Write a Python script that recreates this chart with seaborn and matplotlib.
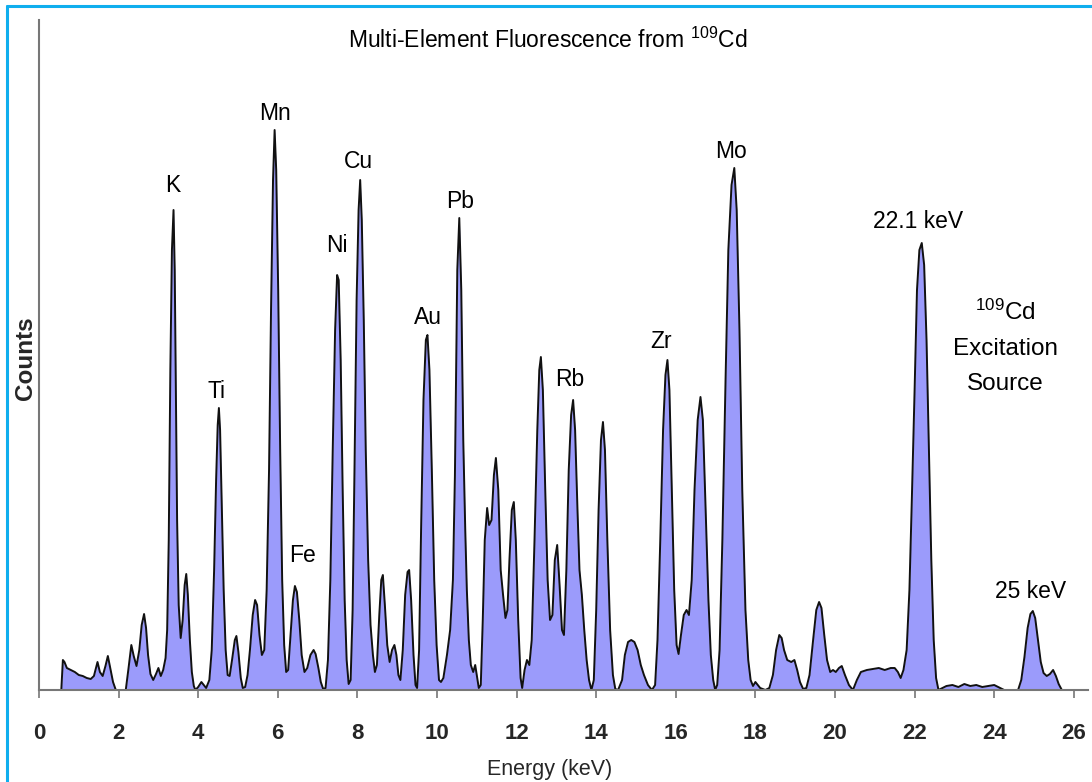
import matplotlib
matplotlib.use("Agg")
import matplotlib.pyplot as plt
from matplotlib.lines import Line2D
import seaborn as sns

# ---------------- data ----------------
energy_kev = [
    0.50, 0.56, 0.60, 0.64, 0.70, 0.80, 0.90, 1.00, 1.10, 1.20, 1.30, 1.38, 1.47, 1.53, 1.60, 1.67, 1.73, 1.79, 1.86, 1.93,
    2.18, 2.25, 2.32, 2.38, 2.45, 2.52, 2.58, 2.64, 2.69, 2.74, 2.80, 2.87, 2.94, 3.00, 3.06, 3.12, 3.18, 3.22, 3.26, 3.30,
    3.34, 3.38, 3.41, 3.44, 3.47, 3.51, 3.56, 3.61, 3.66, 3.70, 3.74, 3.79, 3.84, 3.89, 3.93, 4.00, 4.08, 4.14, 4.20, 4.28,
    4.34, 4.40, 4.45, 4.49, 4.52, 4.55, 4.59, 4.64, 4.69, 4.74, 4.79, 4.85, 4.92, 4.96, 5.01, 5.07, 5.12, 5.18, 5.24, 5.30,
    5.37, 5.43, 5.48, 5.54, 5.60, 5.66, 5.72, 5.78, 5.83, 5.88, 5.92, 5.96, 6.01, 6.06, 6.11, 6.16, 6.21, 6.26, 6.32, 6.38,
    6.43, 6.48, 6.54, 6.60, 6.67, 6.74, 6.82, 6.90, 6.95, 7.02, 7.08, 7.14, 7.20, 7.26, 7.32, 7.38, 7.44, 7.49, 7.53, 7.58,
    7.63, 7.68, 7.73, 7.78, 7.83, 7.88, 7.93, 7.98, 8.03, 8.07, 8.11, 8.16, 8.21, 8.27, 8.33, 8.39, 8.44, 8.49, 8.55, 8.60,
    8.64, 8.69, 8.75, 8.81, 8.87, 8.93, 8.98, 9.03, 9.08, 9.14, 9.20, 9.26, 9.30, 9.35, 9.41, 9.46, 9.50, 9.55, 9.60, 9.66,
    9.72, 9.76, 9.81, 9.87, 9.93, 9.99, 10.05, 10.10, 10.16, 10.25, 10.33, 10.40, 10.45, 10.51, 10.56, 10.61, 10.66, 10.71, 10.75, 10.80,
    10.85, 10.91, 10.96, 11.00, 11.05, 11.10, 11.15, 11.20, 11.26, 11.31, 11.37, 11.43, 11.48, 11.54, 11.60, 11.66, 11.72, 11.77, 11.82, 11.88,
    11.93, 11.98, 12.04, 12.10, 12.14, 12.20, 12.26, 12.32, 12.38, 12.45, 12.52, 12.57, 12.61, 12.66, 12.72, 12.78, 12.84, 12.90, 12.96, 13.02,
    13.08, 13.14, 13.19, 13.25, 13.31, 13.37, 13.42, 13.47, 13.53, 13.58, 13.64, 13.70, 13.76, 13.82, 13.88, 13.94, 14.00, 14.06, 14.12, 14.17,
    14.22, 14.28, 14.35, 14.42, 14.48, 14.55, 14.65, 14.72, 14.80, 14.88, 14.96, 15.04, 15.12, 15.20, 15.30, 15.40, 15.48, 15.54, 15.61, 15.68,
    15.74, 15.79, 15.84, 15.90, 15.96, 16.02, 16.07, 16.13, 16.20, 16.27, 16.33, 16.40, 16.47, 16.55, 16.62, 16.68, 16.75, 16.82, 16.88, 16.94,
    16.99, 17.04, 17.10, 17.17, 17.25, 17.32, 17.40, 17.47, 17.53, 17.60, 17.67, 17.75, 17.82, 17.88, 17.94, 18.00, 18.06, 18.12, 18.25, 18.35,
    18.44, 18.52, 18.60, 18.66, 18.72, 18.80, 18.90, 18.98, 19.05, 19.12, 19.20, 19.28, 19.36, 19.45, 19.53, 19.60, 19.66, 19.73, 19.80, 19.88,
    19.95, 20.02, 20.10, 20.17, 20.25, 20.35, 20.45, 20.55, 20.65, 20.80, 20.95, 21.10, 21.25, 21.40, 21.50, 21.58, 21.65, 21.72, 21.80, 21.87,
    21.93, 22.00, 22.06, 22.12, 22.18, 22.24, 22.30, 22.36, 22.42, 22.48, 22.54, 22.60, 22.70, 22.80, 22.95, 23.10, 23.25, 23.40, 23.55, 23.70,
    23.85, 24.00, 24.15, 24.25, 24.60, 24.68, 24.76, 24.84, 24.91, 24.97, 25.03, 25.10, 25.17, 25.24, 25.32, 25.40, 25.48, 25.55, 25.62, 25.70,
]
counts = [
    0, 0, 30, 28, 22, 20, 18, 15, 14, 12, 11, 14, 28, 18, 14, 24, 34, 22, 8, 0,
    0, 22, 45, 34, 24, 40, 65, 76, 62, 35, 16, 10, 16, 22, 14, 20, 32, 60, 150, 320,
    440, 480, 420, 300, 170, 85, 52, 70, 105, 116, 95, 50, 18, 4, 0, 3, 8, 5, 2, 10,
    40, 120, 210, 265, 282, 260, 190, 100, 40, 15, 14, 30, 50, 54, 38, 12, 2, 3, 15, 40,
    75, 90, 85, 55, 35, 40, 100, 220, 380, 510, 560, 520, 400, 240, 110, 45, 18, 20, 55, 90,
    104, 98, 70, 35, 18, 22, 35, 40, 36, 22, 8, 1, 2, 30, 110, 240, 360, 415, 410, 330,
    200, 90, 30, 6, 10, 80, 230, 390, 480, 510, 470, 370, 240, 130, 65, 35, 18, 25, 75, 110,
    115, 85, 45, 28, 40, 45, 35, 15, 10, 40, 95, 118, 120, 90, 35, 5, 2, 40, 160, 290,
    350, 355, 320, 220, 110, 45, 10, 8, 12, 35, 60, 110, 214, 420, 472, 400, 250, 160, 100, 50,
    25, 18, 25, 15, 2, 5, 70, 150, 182, 165, 170, 215, 232, 200, 120, 95, 72, 80, 130, 180,
    188, 150, 70, 12, 2, 20, 30, 25, 50, 150, 260, 320, 333, 300, 200, 110, 70, 75, 130, 145,
    105, 60, 55, 120, 220, 275, 290, 260, 180, 120, 95, 60, 30, 10, 0, 10, 80, 180, 250, 268,
    240, 150, 60, 15, 1, 0, 10, 35, 48, 50, 48, 40, 25, 15, 5, 0, 5, 50, 150, 260,
    315, 330, 300, 200, 100, 45, 36, 55, 75, 80, 75, 110, 200, 270, 293, 270, 180, 90, 35, 10,
    0, 5, 40, 150, 310, 440, 505, 522, 480, 360, 200, 80, 30, 10, 4, 8, 5, 2, 0, 2,
    15, 40, 55, 52, 40, 30, 28, 30, 20, 8, 1, 2, 15, 50, 80, 88, 82, 55, 30, 18,
    20, 18, 22, 24, 15, 5, 0, 10, 18, 20, 21, 22, 20, 22, 22, 18, 12, 20, 40, 100,
    190, 300, 400, 440, 447, 425, 350, 240, 130, 50, 12, 0, 2, 4, 5, 3, 6, 4, 5, 3,
    4, 5, 2, 0, 0, 10, 33, 62, 76, 79, 72, 50, 28, 17, 14, 16, 20, 14, 6, 0,
]

x_ticks = [0, 2, 4, 6, 8, 10, 12, 14, 16, 18, 20, 22, 24, 26]

peak_labels = ["K", "Ti", "Mn", "Fe", "Ni", "Cu", "Au", "Pb", "Rb", "Zr", "Mo",
               "22.1 keV", "25 keV"]
label_energy = [3.37, 4.47, 5.93, 6.61, 7.49, 8.02, 9.77, 10.58, 13.34, 15.63, 17.39,
                22.09, 24.92]
label_counts = [504, 298, 577, 134, 444, 528, 373, 489, 310, 349, 538, 468, 98]

title_text = "Multi-Element Fluorescence from $^{109}$Cd"
source_lines = ["$^{109}$Cd", "Excitation", "Source"]
xlabel_text = "Energy (keV)"
ylabel_text = "Counts"

# ---------------- style ----------------
sns.set_style("white")
plt.rcParams["font.family"] = ["Liberation Sans", "DejaVu Sans"]
plt.rcParams["mathtext.fontset"] = "custom"
plt.rcParams["mathtext.rm"] = "Liberation Sans"
plt.rcParams["mathtext.bf"] = "Liberation Sans:bold"
plt.rcParams["mathtext.default"] = "regular"

W, H = 1092, 782
fig = plt.figure(figsize=(W / 100, H / 100), dpi=100)
ax = fig.add_axes([39 / W, 1 - 690 / H, (1088 - 39) / W, (690 - 20) / H])

fill_color = "#9B9BFB"
ax.fill_between(energy_kev, counts, 0, color=fill_color, linewidth=0, zorder=1)
sns.lineplot(x=energy_kev, y=counts, ax=ax, color="#111111", linewidth=1.4,
             sort=False, estimator=None, zorder=2)

ax.set_xlim(0, (1088 - 39) / 39.8)
ax.set_ylim(0, 670)
ax.set_xticks(x_ticks)
ax.set_xticklabels([str(t) for t in x_ticks], fontsize=16, fontweight="bold")
ax.set_yticks([])
ax.tick_params(axis="x", direction="out", length=6, width=1.2, color="#777777",
               pad=18, bottom=True)
for side in ["top", "right"]:
    ax.spines[side].set_visible(False)
for side in ["left", "bottom"]:
    ax.spines[side].set_color("#777777")
    ax.spines[side].set_linewidth(1.5)

ax.set_xlabel(xlabel_text, fontsize=15.5)
ax.xaxis.set_label_coords(0.487, -0.103)
ax.set_ylabel(ylabel_text, fontsize=17.5, fontweight="bold")
ax.yaxis.set_label_coords(-0.0015, 0.495)

for lab, e, c in zip(peak_labels, label_energy, label_counts):
    ax.text(e, c, lab, ha="center", va="center", fontsize=16.5, color="black")

src_e = 24.28
for txt, c in zip(source_lines, [378, 341, 306]):
    ax.text(src_e, c, txt, ha="center", va="center", fontsize=17.5, color="black")

fig.text(548 / W, 1 - 40 / H, title_text, ha="center", va="center",
         fontsize=16.5, color="black")

# partial frame (cyan) along top and left edges
border = "#10AEEE"
fig.add_artist(Line2D([7 / W, 1.0], [1 - 6 / H, 1 - 6 / H], transform=fig.transFigure,
                      color=border, linewidth=2.2))
fig.add_artist(Line2D([7 / W, 7 / W], [0, 1 - 6 / H], transform=fig.transFigure,
                      color=border, linewidth=2.2))

fig.savefig("out.png", dpi=100)
